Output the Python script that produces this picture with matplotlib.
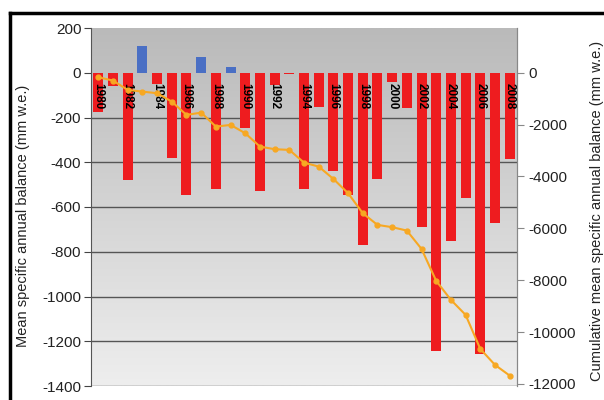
import numpy as np
import matplotlib
matplotlib.use("Agg")
import matplotlib.pyplot as plt
from matplotlib.lines import Line2D

plt.rcParams['font.family'] = ['Liberation Sans', 'DejaVu Sans']

years = list(range(1980, 2009))
annual_balance = [-175, -58, -479, 121, -50, -379, -546, 70, -519, 27,
                  -248, -527, -55, -5, -519, -155, -437, -546, -770, -473,
                  -43, -156, -688, -1243, -750, -561, -1256, -673, -387]
cumulative_balance = [-177, -308, -667, -732, -794, -1118, -1630, -1542, -2081, -2016,
                      -2336, -2852, -2952, -2979, -3469, -3623, -4097, -4648, -5419, -5870,
                      -5958, -6089, -6795, -8028, -8760, -9338, -10649, -11266, -11678]
left_ticks = [200, 0, -200, -400, -600, -800, -1000, -1200, -1400]
right_ticks = [0, -2000, -4000, -6000, -8000, -10000, -12000]

fig = plt.figure(figsize=(6.04, 4.0), dpi=100)
fig.patch.set_facecolor('white')

ax = fig.add_axes([91/604, 1-386/400, (517-91)/604, (386-28)/400])
x = np.arange(len(years))

# gradient background
grad = np.linspace(0, 1, 256).reshape(-1, 1)
top_c = np.array([186, 186, 186]) / 255
bot_c = np.array([238, 238, 238]) / 255
img = top_c[None, None, :] * (1 - grad[:, :, None]) + bot_c[None, None, :] * grad[:, :, None]
ax.imshow(img, extent=[0, 1, 0, 1], transform=ax.transAxes, aspect='auto', zorder=0)

ax.set_xlim(-0.5, len(years) - 0.5)
ax.set_ylim(-1400, 200)
ax.set_yticks(left_ticks)
ax.set_yticklabels([str(t) for t in left_ticks], fontsize=11, color='#222222')
for t in left_ticks[2:]:
    ax.axhline(t, color='#555555', lw=1.0, zorder=1)

colors = ['#4a6fc4' if v > 0 else '#ee1c1f' for v in annual_balance]
ax.bar(x, annual_balance, width=0.68, color=colors, edgecolor='none', zorder=2)

for i, y in enumerate(years):
    if y % 2 == 0:
        ax.text(i, -45, str(y), rotation=-90, ha='center', va='top',
                fontsize=8.5, fontweight='bold', color='black', zorder=5)

ax.set_xticks([])
ax.tick_params(axis='y', direction='out', length=5, color='#444444', pad=2)
for s in ['top', 'bottom']:
    ax.spines[s].set_visible(False)
ax.spines['left'].set_color('#555555')
ax.spines['right'].set_color('#888888')
ax.set_ylabel('Mean specific annual balance (mm w.e.)', fontsize=10.5, color='#222222')
ax.yaxis.set_label_coords(-0.143, 0.475)

ax2 = ax.twinx()
ax2.set_ylim(-12080, 1720)
ax2.plot(x, cumulative_balance, color='#f7a823', lw=1.5, marker='o', markersize=3.5,
         markeredgecolor='#f7a823', zorder=6)
ax2.set_yticks(right_ticks)
ax2.set_yticklabels([str(t) for t in right_ticks], fontsize=11, color='#222222')
ax2.tick_params(axis='y', direction='out', length=5, color='#888888', pad=3)
for s in ['top', 'bottom', 'left']:
    ax2.spines[s].set_visible(False)
ax2.spines['right'].set_color('#888888')
ax2.set_ylabel('Cumulative mean specific annual balance (mm w.e.)', fontsize=10.5,
               color='#222222')
ax2.yaxis.set_label_coords(1.171, 0.489)

# outer frame
fig.add_artist(Line2D([10/604, 1], [1-13/400, 1-13/400], transform=fig.transFigure,
                      color='black', lw=2.5))
fig.add_artist(Line2D([10/604, 10/604], [0, 1-13/400], transform=fig.transFigure,
                      color='black', lw=2.5))

fig.savefig('out.png', dpi=100, facecolor='white')
